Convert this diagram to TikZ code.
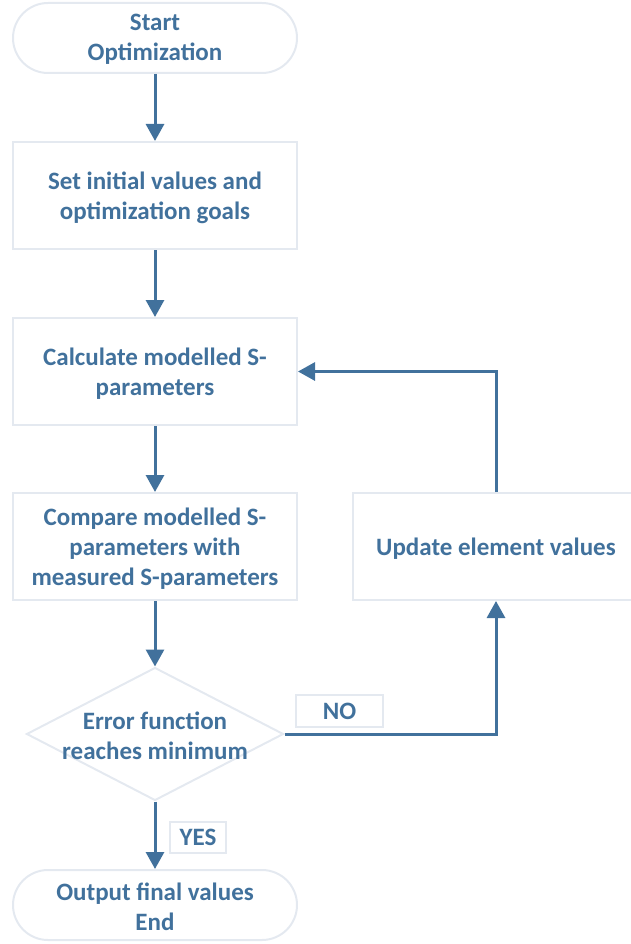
\documentclass[tikz,border=0pt]{standalone}
\usepackage{fontspec}
\setmainfont{Carlito}
\usetikzlibrary{arrows.meta,shapes.geometric,shapes.misc}
\definecolor{txtblue}{HTML}{41719C}
\definecolor{edgegrey}{HTML}{E4E9F0}
\begin{document}
\begin{tikzpicture}[x=1pt,y=-1pt,
  every node/.style={font=\fontsize{25}{30}\selectfont\bfseries, text=txtblue, align=center, inner sep=0pt},
  procbox/.style={draw=edgegrey, line width=2pt, rectangle, minimum width=284pt, minimum height=107pt},
  termbox/.style={draw=edgegrey, line width=2pt, rounded rectangle, minimum width=284pt, minimum height=70pt},
  lblbox/.style={draw=edgegrey, line width=2pt, rectangle, fill=white},
  flow/.style={draw=txtblue, line width=3pt, -{Triangle[width=18pt,length=17pt]}},
  ]
\useasboundingbox (0,0) rectangle (631,944);
\node[termbox] (start) at (155,38) {};
\node (starttxt) at (155,39.5) {Start\\Optimization};
\node[procbox] (b1) at (155,195.5) {};
\node (b1txt) at (155,198) {Set initial values and\\optimization goals};
\node[procbox] (b2) at (155,371.5) {};
\node (b2txt) at (155,373.5) {Calculate modelled S-\\parameters};
\node[procbox] (b3) at (155,546.5) {};
\node (b3txt) at (155,549) {Compare modelled S-\\parameters with\\measured S-parameters};
\node[draw=edgegrey, line width=2pt, diamond, minimum width=257pt, minimum height=133pt, inner sep=0pt] (dia) at (155,734) {};
\node (diatxt) at (155,735.5) {Error function\\reaches minimum};
\node[procbox, minimum width=286pt] (upd) at (496,546.5) {};
\node (updtxt) at (496,549) {Update element values};
\node[termbox] (end) at (155,905) {};
\node (endtxt) at (155,906.5) {Output final values\\End};
\node[lblbox, minimum width=87pt, minimum height=32pt] (no) at (339.5,711) {NO};
\node[lblbox, minimum width=56pt, minimum height=31pt] (yes) at (198,837.5) {YES};

\draw[flow] (start) -- (b1);
\draw[flow] (b1) -- (b2);
\draw[flow] (b2) -- (b3);
\draw[flow] (b3) -- (dia.north);
\draw[flow] (dia.south) -- (end);
\draw[flow] (dia.east) -| (upd.south);
\draw[flow] (upd.north) |- (b2.east);
\end{tikzpicture}
\end{document}
